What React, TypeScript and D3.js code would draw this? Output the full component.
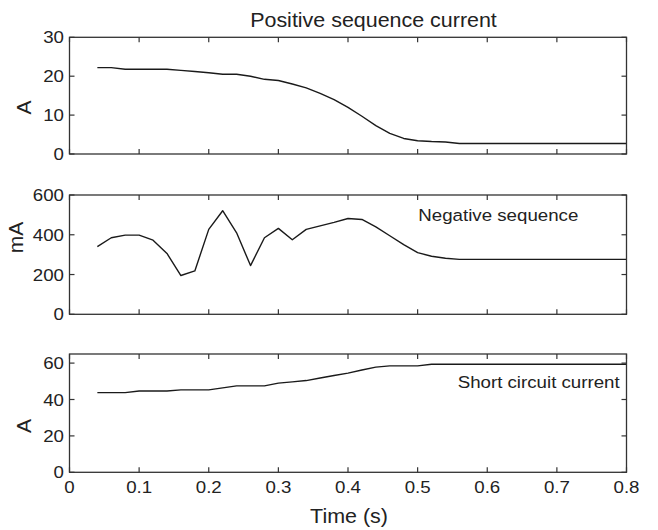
import React from "react";
import * as d3 from "d3";

const times = [0.04, 0.06, 0.08, 0.1, 0.12, 0.14, 0.16, 0.18, 0.2, 0.22, 0.24, 0.26, 0.28, 0.3, 0.32, 0.34, 0.36, 0.38, 0.4, 0.42, 0.44, 0.46, 0.48, 0.5, 0.52, 0.54, 0.56, 0.58, 0.6, 0.62, 0.64, 0.66, 0.68, 0.7, 0.72, 0.74, 0.76, 0.78, 0.8];

const positiveSeq = [22.2, 22.2, 21.8, 21.8, 21.8, 21.8, 21.5, 21.2, 20.9, 20.5, 20.5, 20.0, 19.2, 18.9, 18.0, 17.0, 15.6, 14.0, 12.0, 9.7, 7.3, 5.3, 4.0, 3.4, 3.2, 3.1, 2.7, 2.7, 2.7, 2.7, 2.7, 2.7, 2.7, 2.7, 2.7, 2.7, 2.7, 2.7, 2.7];

const negativeSeq = [340, 385, 398, 398, 373, 306, 195, 218, 427, 521, 410, 245, 385, 432, 375, 427, 445, 462, 482, 477, 440, 395, 350, 310, 292, 282, 276, 276, 276, 276, 276, 276, 276, 276, 276, 276, 276, 276, 276];

const shortCircuit = [43.8, 43.8, 43.8, 44.7, 44.7, 44.7, 45.3, 45.3, 45.3, 46.4, 47.5, 47.5, 47.5, 49.0, 49.7, 50.4, 51.8, 53.2, 54.5, 56.2, 57.8, 58.5, 58.5, 58.5, 59.4, 59.4, 59.4, 59.4, 59.4, 59.4, 59.4, 59.4, 59.4, 59.4, 59.4, 59.4, 59.4, 59.4, 59.4];

const xTicks = [0, 0.1, 0.2, 0.3, 0.4, 0.5, 0.6, 0.7, 0.8];
const yTicks1 = [0, 10, 20, 30];
const yTicks2 = [0, 200, 400, 600];
const yTicks3 = [0, 20, 40, 60];

const FONT = "'Liberation Sans', Arial, Helvetica, sans-serif";
const TXT = "#222";
const SX = 1.1;

const x = d3.scaleLinear().domain([0, 0.8]).range([69.5, 626.5]);

type PanelProps = {
  values: number[];
  domain: [number, number];
  top: number;
  bottom: number;
  yTicks: number[];
  showXLabels: boolean;
};

function Panel({ values, domain, top, bottom, yTicks, showXLabels }: PanelProps) {
  const y = d3.scaleLinear().domain(domain).range([bottom, top]);
  const line = d3
    .line<number>()
    .x((_, i) => x(times[i]))
    .y((d) => y(d));
  const [x0, x1] = x.range();
  const tl = 5;
  return (
    <g>
      <path d={line(values) || ""} fill="none" stroke="#1a1a1a" strokeWidth={1.4} strokeLinejoin="round" />
      <rect x={x0} y={top} width={x1 - x0} height={bottom - top} fill="none" stroke="#333" strokeWidth={1.3} />
      {xTicks.map((t) => (
        <g key={"xt" + t}>
          <line x1={x(t)} x2={x(t)} y1={bottom} y2={bottom - tl} stroke="#333" strokeWidth={1.2} />
          <line x1={x(t)} x2={x(t)} y1={top} y2={top + tl} stroke="#333" strokeWidth={1.2} />
          {showXLabels && (
            <text
              transform={`translate(${x(t)},${493}) scale(${SX},1)`}
              textAnchor="middle"
              fontFamily={FONT}
              fontSize={17}
              fill={TXT}
            >
              {String(t)}
            </text>
          )}
        </g>
      ))}
      {yTicks.map((v) => (
        <g key={"yt" + v}>
          <line x1={x0} x2={x0 + tl} y1={y(v)} y2={y(v)} stroke="#333" strokeWidth={1.2} />
          <line x1={x1} x2={x1 - tl} y1={y(v)} y2={y(v)} stroke="#333" strokeWidth={1.2} />
          <text
            transform={`translate(${64},${y(v) + 6}) scale(${SX},1)`}
            textAnchor="end"
            fontFamily={FONT}
            fontSize={17}
            fill={TXT}
          >
            {String(v)}
          </text>
        </g>
      ))}
    </g>
  );
}

export default function App() {
  return (
    <svg
      width={658}
      height={530}
      viewBox="0 0 658 530"
      style={{ position: "absolute", left: 0, top: 0, background: "#fff" }}
    >
      <rect x={0} y={0} width={658} height={530} fill="#fff" />
      <Panel values={positiveSeq} domain={[0, 30]} top={37.3} bottom={154} yTicks={yTicks1} showXLabels={false} />
      <Panel values={negativeSeq} domain={[0, 600]} top={195} bottom={314.3} yTicks={yTicks2} showXLabels={false} />
      <Panel values={shortCircuit} domain={[0, 65]} top={354} bottom={472.3} yTicks={yTicks3} showXLabels={true} />

      <text transform={`translate(373.5,26.7) scale(${SX},1)`} textAnchor="middle" fontFamily={FONT} fontSize={19.5} fill={TXT}>
        Positive sequence current
      </text>
      <text transform={`translate(418.3,220.7) scale(${SX},1)`} textAnchor="start" fontFamily={FONT} fontSize={17} fill={TXT}>
        Negative sequence
      </text>
      <text transform={`translate(619.7,388.3) scale(${SX},1)`} textAnchor="end" fontFamily={FONT} fontSize={17} fill={TXT}>
        Short circuit current
      </text>
      <text transform={`translate(349,522.7) scale(${SX},1)`} textAnchor="middle" fontFamily={FONT} fontSize={19.5} fill={TXT}>
        Time (s)
      </text>

      <text transform="translate(31,107.5) rotate(-90)" textAnchor="middle" fontFamily={FONT} fontSize={21} fill={TXT}>
        A
      </text>
      <text transform="translate(22.5,237.5) rotate(-90)" textAnchor="middle" fontFamily={FONT} fontSize={21} fill={TXT}>
        mA
      </text>
      <text transform="translate(31,426) rotate(-90)" textAnchor="middle" fontFamily={FONT} fontSize={21} fill={TXT}>
        A
      </text>
    </svg>
  );
}
